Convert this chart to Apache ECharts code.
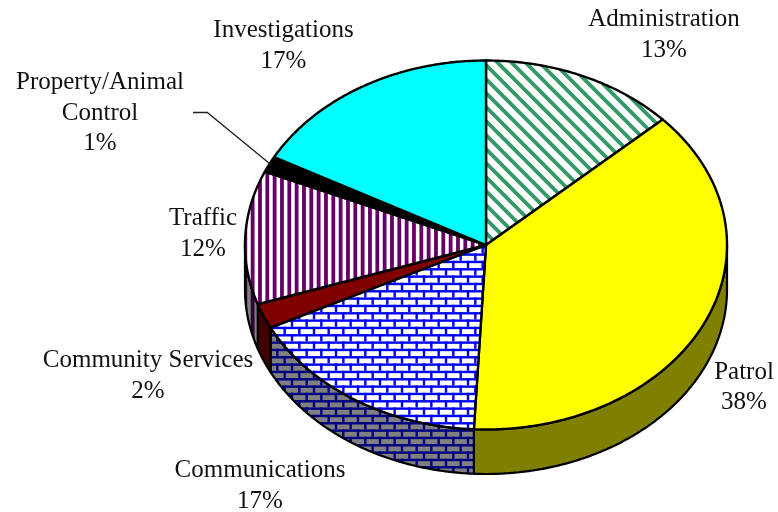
<!DOCTYPE html>
<html><head><meta charset="utf-8">
<style>html,body{margin:0;padding:0;background:#fff}#c{width:778px;height:512px}</style>
<script src="https://cdn.jsdelivr.net/npm/echarts@6/dist/echarts.min.js"></script>
</head><body><div id="c"></div>
<script>
const categories = ['Administration','Patrol','Communications','Community Services','Traffic','Property/Animal Control','Investigations'];
const shares = [13.1,37.7,16.8,2.2,11.7,1.4,17.1];

// label layout (separate from the data)
const labelLines = [['Administration'],['Patrol'],['Communications'],['Community Services'],['Traffic'],['Property/Animal','Control'],['Investigations']];
const labelCentre = [[664,35],[744,387.5],[260,486],[148,376],[203,234],[100,113],[283.5,46]];
const LH = 30.5;
const FONT = '25px "Liberation Serif"';
const CX=486, CY=245, RX=241, RY=184.5, DEPTH=44.5;

function tile(w,h,bg,draw){
  const c=document.createElement('canvas');c.width=w;c.height=h;
  const g=c.getContext('2d');g.fillStyle=bg;g.fillRect(0,0,w,h);draw(g,w,h);
  return {image:c,repeat:'repeat'};
}
function diag(fg,bg){const W=42;return tile(W,W,bg,(g)=>{
  g.strokeStyle=fg;g.lineWidth=3.8;
  for(let i=-3;i<=3;i++){const x=i*W/3+1;g.beginPath();g.moveTo(x-4,-4);g.lineTo(x+W+4,W+4);g.stroke();}
});}
function vert(fg,bg){return tile(22,4,bg,(g)=>{
  g.fillStyle=fg;for(let i=0;i<3;i++){g.fillRect(i*22/3+1.4,0,3.8,4);}
});}
function brick(fg,bg){const W=44,H=44;return tile(W,H,bg,(g)=>{
  g.fillStyle=fg;const bw=W/3,bh=H/6,t=2.4,ox=4.8,oy=4.1;
  for(let r=-1;r<6;r++){
    g.fillRect(0,r*bh+oy,W,t);
    for(let k=-2;k<4;k++){g.fillRect(k*bw+ox+(((r+6)%2)?bw/2:0),r*bh+oy,t,bh);}
  }
});}
const topFill=[diag('#339966','#ffffff'),'#ffff00',brick('#0000ff','#ffffff'),'#800000',vert('#660066','#ffffff'),'#000000','#00ffff'];
const sideFill=[diag('#1a4d33','#808080'),'#808000',brick('#000080','#808080'),'#400000',vert('#330033','#808080'),'#000000','#008080'];

const total=shares.reduce((a,b)=>a+b,0);
const starts=[];shares.reduce((a,b,i)=>{starts[i]=a;return a+b;},0);
const pt=(a,dy=0)=>[CX+RX*Math.sin(a),CY-RY*Math.cos(a)+dy];
function arcPts(a0,a1,dy){const n=Math.max(2,Math.ceil((a1-a0)/0.01));const p=[];
  for(let i=0;i<=n;i++)p.push(pt(a0+(a1-a0)*i/n,dy));return p;}

function renderItem(params,api){
  const i=params.dataIndex;
  const a0=starts[i]/total*2*Math.PI, a1=(starts[i]+api.value(0))/total*2*Math.PI;
  const children=[];
  const s0=Math.max(a0,Math.PI/2), s1=Math.min(a1,Math.PI*1.5);
  if(s1>s0){
    const top=arcPts(s0,s1,0), bot=arcPts(s0,s1,DEPTH).reverse();
    children.push({type:'polygon',shape:{points:top.concat(bot)},style:{fill:sideFill[i],stroke:'#000',lineWidth:2.2,lineJoin:'round'},z2:1});
  }
  children.push({type:'polygon',shape:{points:[[CX,CY]].concat(arcPts(a0,a1,0))},style:{fill:topFill[i],stroke:'#000',lineWidth:2.4,lineJoin:'round'},z2:2});
  labelLines[i].concat([Math.round(api.value(0))+'%']).forEach((t,k,arr)=>{
    children.push({type:'text',x:labelCentre[i][0],y:labelCentre[i][1]+(k-(arr.length-1)/2)*LH,
      style:{text:t,font:FONT,fill:'#111',align:'center',verticalAlign:'middle'},z2:5});
  });
  return {type:'group',children};
}

const chart=echarts.init(document.getElementById('c'),null,{renderer:'canvas'});
chart.setOption({
  animation:false,
  backgroundColor:'#ffffff',
  series:[{type:'custom',coordinateSystem:'none',renderItem,
    data:shares.map((v,i)=>({name:categories[i],value:[v]}))}],
  graphic:[{type:'polyline',z:10,shape:{points:[[193,112.5],[207.3,112.5],[269.5,163.5]]},style:{stroke:'#222',lineWidth:1.3,fill:null}}]
});
</script></body></html>
